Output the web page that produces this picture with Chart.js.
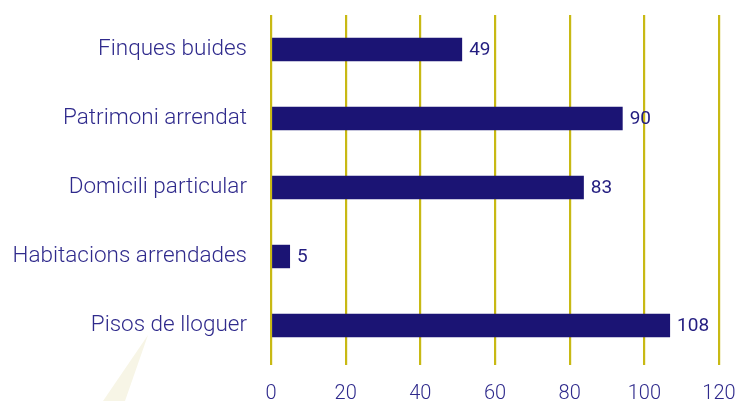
<!DOCTYPE html>
<html>
<head>
<meta charset="utf-8">
<script src="https://cdn.jsdelivr.net/npm/chart.js@4"></script>
<style>
  html, body { margin: 0; padding: 0; background: #fff; }
  #wrap { width: 737px; height: 401px; position: relative; }
</style>
</head>
<body>
<div id="wrap"><canvas id="c"></canvas></div>
<script>
// categories, top to bottom
const categories = ["Finques buides", "Patrimoni arrendat", "Domicili particular", "Habitacions arrendades", "Pisos de lloguer"];
// bar lengths as drawn in the picture
const barValues = [51.2, 94.2, 83.8, 5.1, 106.9];
// numbers printed beside the bars
const valueLabels = ["49", "90", "83", "5", "108"];
const xTicks = [0, 20, 40, 60, 80, 100, 120];

const NAVY = "#1b1474";
const TEXT = "#2f2a8c";
const GRID = "#c8b914";
const FONT = "Roboto";

// faint callout wedge under the last label
const wedge = {
  id: "wedge",
  beforeDraw(chart) {
    const c = chart.ctx;
    c.save();
    c.fillStyle = "#f7f5e6";
    c.beginPath();
    c.moveTo(148, 335);
    c.lineTo(125, 401);
    c.lineTo(103, 401);
    c.closePath();
    c.fill();
    c.restore();
  }
};

// numbers at the end of each bar
const barLabels = {
  id: "barLabels",
  afterDatasetsDraw(chart) {
    const c = chart.ctx;
    const meta = chart.getDatasetMeta(0);
    c.save();
    c.fillStyle = "#231d80";
    c.font = "400 19px " + FONT;
    c.textBaseline = "middle";
    c.textAlign = "left";
    meta.data.forEach((bar, i) => {
      c.fillText(valueLabels[i], bar.x + 7, bar.y + 1);
    });
    c.restore();
  }
};

const noPad = (s) => { s.paddingTop = 0; s.paddingBottom = 0; s.paddingLeft = 0; s.paddingRight = 0; };

new Chart(document.getElementById("c"), {
  type: "bar",
  data: {
    labels: categories,
    datasets: [{
      data: barValues,
      backgroundColor: NAVY,
      borderWidth: 0,
      barPercentage: 0.68,
      categoryPercentage: 0.5
    }]
  },
  plugins: [wedge, barLabels],
  options: {
    indexAxis: "y",
    responsive: true,
    maintainAspectRatio: false,
    animation: false,
    layout: { padding: { top: 15, right: 18, left: 0, bottom: 0 } },
    plugins: { legend: { display: false }, tooltip: { enabled: false } },
    scales: {
      x: {
        min: 0, max: 120,
        afterBuildTicks: (s) => { s.ticks = xTicks.map(v => ({ value: v })); },
        afterFit: (s) => { s.height = 41; noPad(s); },
        grid: { color: GRID, lineWidth: 2.2, drawTicks: true, tickLength: 5 },
        border: { display: false },
        ticks: { color: TEXT, font: { family: FONT, size: 20, weight: 300 }, padding: 17 }
      },
      y: {
        afterFit: (s) => { s.width = 271; noPad(s); },
        grid: { display: false },
        border: { display: false },
        ticks: { color: TEXT, font: { family: FONT, size: 22.5, weight: 300 }, padding: 16 }
      }
    }
  }
});
</script>
</body>
</html>
